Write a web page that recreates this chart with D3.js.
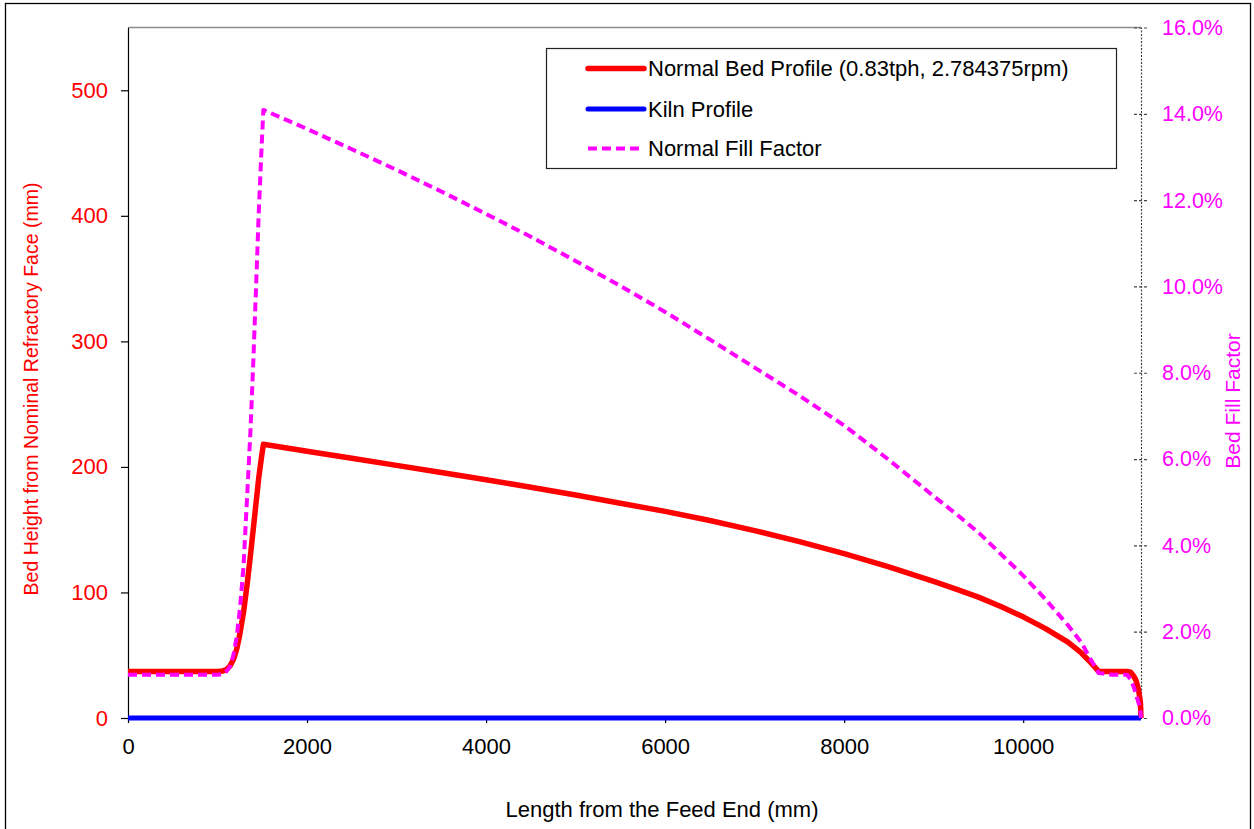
<!DOCTYPE html>
<html>
<head>
<meta charset="utf-8">
<script src="https://cdn.jsdelivr.net/npm/d3@7"></script>
<style>
  html, body { margin: 0; padding: 0; background: #ffffff; }
  svg { display: block; font-family: "Liberation Sans", Arial, sans-serif; }
</style>
</head>
<body>
<svg id="chart" width="1254" height="829"></svg>
<script>
// ---- Data ----
const lengthMm = [0, 500, 1000, 1060, 1100, 1140, 1180, 1215, 1250, 1290, 1330, 1370, 1400, 1430, 1460, 1490, 1512,
  2000, 2500, 3000, 3500, 4000, 4500, 5000, 5500, 6000, 6500, 7000, 7500, 8000, 8500, 9000,
  9250, 9500, 9750, 10000, 10250, 10500, 10650, 10750, 10845, 11000,
  11160, 11200, 11233, 11260, 11290, 11310, 11316];
const bedHeight = [37, 37, 37, 37.5, 38.5, 41.5, 47, 55, 67, 84, 106, 131, 151, 171, 191, 207, 218,
  212.5, 206.9, 201.2, 195.5, 189.8, 183.8, 177.6, 171.1, 164.6, 157.3, 149.3, 140.5, 130.9, 120.4, 108.8,
  102.6, 96.3, 88.8, 80.6, 71.2, 60.4, 51.8, 44.5, 37, 37,
  37, 36.5, 33.5, 30, 22, 12, 0];
const fillFactorPct = [1.0, 1.0, 1.0, 1.02, 1.08, 1.19, 1.48, 1.89, 2.52, 3.5, 5.1, 6.74, 8.28, 9.95, 11.68, 13.12, 14.09,
  13.65, 13.18, 12.70, 12.20, 11.68, 11.15, 10.59, 10.01, 9.41, 8.77, 8.12, 7.47, 6.78, 5.98, 5.14,
  4.73, 4.30, 3.80, 3.30, 2.75, 2.15, 1.75, 1.37, 1.04, 1.0,
  1.0, 0.9, 0.73, 0.55, 0.34, 0.15, 0];
const kilnX = [0, 11316];
const kilnY = [0, 0];

const xTicks = [0, 2000, 4000, 6000, 8000, 10000];
const yLeftTicks = [0, 100, 200, 300, 400, 500];
const yRightTicks = [0, 2, 4, 6, 8, 10, 12, 14, 16];

const seriesNames = ["Normal Bed Profile (0.83tph, 2.784375rpm)", "Kiln Profile", "Normal Fill Factor"];
const xTitle = "Length from the Feed End (mm)";
const yLeftTitle = "Bed Height from Nominal Refractory Face (mm)";
const yRightTitle = "Bed Fill Factor";

// ---- Layout ----
const svg = d3.select("#chart");
const L = 128, R = 1141, T = 27.5, B = 718;
const RED = "#ff0000", BLUE = "#0000ff", MAG = "#ff00ff";

svg.append("rect").attr("x", 0).attr("y", 0).attr("width", 1254).attr("height", 829).attr("fill", "#fff");
svg.append("rect").attr("x", 5.5).attr("y", 3.5).attr("width", 1245).attr("height", 840)
  .attr("fill", "#fff").attr("stroke", "#000").attr("stroke-width", 1.3);

const x = d3.scaleLinear().domain([0, 11316]).range([L, R]);
const yL = d3.scaleLinear().domain([0, 550]).range([B, T]);
const yR = d3.scaleLinear().domain([0, 16]).range([B, T]);

// plot area top border
svg.append("line").attr("x1", L).attr("x2", R).attr("y1", T).attr("y2", T)
  .attr("stroke", "#8c8c8c").attr("stroke-width", 1.5);

// Left axis
const gL = svg.append("g").attr("transform", `translate(${L},0)`)
  .call(d3.axisLeft(yL).tickValues(yLeftTicks).tickSize(7).tickSizeOuter(0).tickPadding(13));
gL.select(".domain").attr("stroke", "#000").attr("stroke-width", 1.2);
gL.selectAll(".tick line").attr("stroke", "#000").attr("stroke-width", 1.2);
gL.selectAll(".tick text").attr("fill", RED).style("font-size", "22px")
  .style("font-family", "'Liberation Sans', Arial, sans-serif");

// Right axis
const gR = svg.append("g").attr("transform", `translate(${R},0)`)
  .call(d3.axisRight(yR).tickValues(yRightTicks).tickSize(7).tickSizeOuter(0).tickPadding(14)
    .tickFormat(d => d3.format(".1f")(d) + "%"));
gR.select(".domain").attr("stroke", "#444").attr("stroke-width", 1.2).attr("stroke-dasharray", "2,1.5");
gR.selectAll(".tick line").attr("x1", -7).attr("stroke", "#444").attr("stroke-width", 1.2)
  .attr("stroke-dasharray", "3,2");
gR.selectAll(".tick text").attr("fill", MAG).style("font-size", "21.5px")
  .style("font-family", "'Liberation Sans', Arial, sans-serif");

// Bottom axis
const gB = svg.append("g").attr("transform", `translate(0,${B})`)
  .call(d3.axisBottom(x).tickValues(xTicks).tickSize(5).tickSizeOuter(0).tickPadding(15.5)
    .tickFormat(d3.format("d")));
gB.select(".domain").attr("stroke", "#000").attr("stroke-width", 1.2);
gB.selectAll(".tick line").attr("stroke", "#000").attr("stroke-width", 1.2);
gB.selectAll(".tick text").attr("fill", "#000").style("font-size", "22px")
  .style("font-family", "'Liberation Sans', Arial, sans-serif");

// Series
const bedData = lengthMm.map((v, i) => [v, bedHeight[i]]);
const fillData = lengthMm.map((v, i) => [v, fillFactorPct[i]]);
const kilnData = kilnX.map((v, i) => [v, kilnY[i]]);

svg.append("path").datum(bedData)
  .attr("d", d3.line().x(d => x(d[0])).y(d => yL(d[1])))
  .attr("fill", "none").attr("stroke", RED).attr("stroke-width", 5.5).attr("stroke-linejoin", "round");

svg.append("path").datum(kilnData)
  .attr("d", d3.line().x(d => x(d[0])).y(d => yL(d[1])))
  .attr("fill", "none").attr("stroke", BLUE).attr("stroke-width", 5);

svg.append("path").datum(fillData)
  .attr("d", d3.line().x(d => x(d[0])).y(d => yR(d[1])))
  .attr("fill", "none").attr("stroke", MAG).attr("stroke-width", 4)
  .attr("stroke-dasharray", "9,5").attr("stroke-linejoin", "round");

// Legend
const lg = svg.append("g");
lg.append("rect").attr("x", 546.5).attr("y", 48.5).attr("width", 570).attr("height", 120)
  .attr("fill", "#fff").attr("stroke", "#222").attr("stroke-width", 1.2);
const rows = [
  { name: seriesNames[0], color: RED, w: 5.5, dash: null, y: 68.5 },
  { name: seriesNames[1], color: BLUE, w: 5, dash: null, y: 109 },
  { name: seriesNames[2], color: MAG, w: 4, dash: "9,5", y: 148.5 }
];
rows.forEach(r => {
  const ln = lg.append("line").attr("x1", 588).attr("x2", 644).attr("y1", r.y).attr("y2", r.y)
    .attr("stroke", r.color).attr("stroke-width", r.w).attr("stroke-linecap", r.dash ? "butt" : "round");
  if (r.dash) ln.attr("stroke-dasharray", r.dash);
  lg.append("text").attr("x", 648).attr("y", r.y).attr("dy", "0.35em")
    .style("font-size", "22px").attr("fill", "#000").text(r.name);
});

// Titles
svg.append("text").attr("x", 662).attr("y", 817).attr("text-anchor", "middle")
  .style("font-size", "22px").attr("fill", "#000").text(xTitle);
svg.append("text").attr("transform", "translate(37.5,389) rotate(-90)").attr("text-anchor", "middle")
  .style("font-size", "19.5px").attr("fill", RED).text(yLeftTitle);
svg.append("text").attr("transform", "translate(1240,401) rotate(-90)").attr("text-anchor", "middle")
  .style("font-size", "21px").attr("fill", MAG).text(yRightTitle);
</script>
</body>
</html>
